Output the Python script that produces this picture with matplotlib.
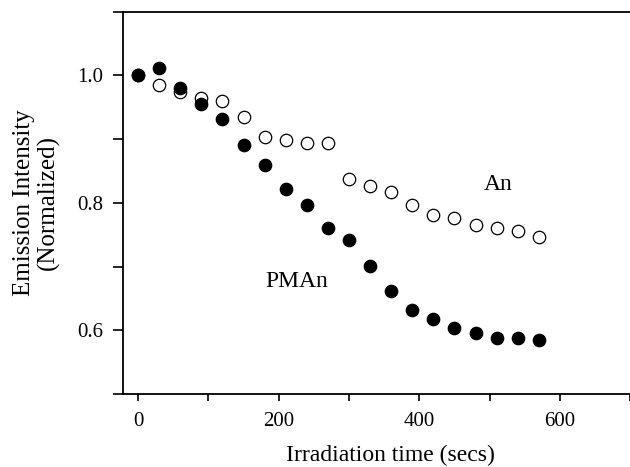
import matplotlib

matplotlib.use("Agg")
import matplotlib.pyplot as plt
from matplotlib.ticker import MultipleLocator

# irradiation time (s), one reading every 30 s
time_s = [0, 30, 60, 90, 120, 150, 180, 210, 240, 270,
          300, 330, 360, 390, 420, 450, 480, 510, 540, 570]

# normalized emission intensity
pman = [1.000, 1.012, 0.980, 0.955, 0.931, 0.891, 0.859, 0.822, 0.797, 0.761,
        0.742, 0.701, 0.661, 0.632, 0.617, 0.604, 0.596, 0.588, 0.588, 0.585]
an = [1.000, 0.984, 0.974, 0.965, 0.960, 0.934, 0.903, 0.898, 0.893, 0.893,
      0.837, 0.827, 0.817, 0.796, 0.781, 0.776, 0.765, 0.761, 0.756, 0.746]

x_ticks = [0, 200, 400, 600]
y_ticks = [0.6, 0.8, 1.0]

plt.rcParams.update(
    {
        "font.family": ["Liberation Serif", "DejaVu Serif"],
        "font.size": 15,
        "axes.linewidth": 1.3,
    }
)

fig = plt.figure(figsize=(6.3, 4.67), dpi=100)
ax = fig.add_axes([123 / 630, 1 - 394 / 467, 510 / 630, (394 - 11.5) / 467])

ax.scatter(time_s, an, s=80, facecolors="white", edgecolors="black",
           linewidths=0.9, zorder=3)
ax.scatter(time_s, pman, s=80, facecolors="black", edgecolors="black",
           linewidths=0.9, zorder=4)

ax.text(512, 0.829, "An", ha="center", va="center", fontsize=17)
ax.text(226, 0.677, "PMAn", ha="center", va="center", fontsize=17)

ax.set_xlim(-21.5, 704)
ax.set_ylim(0.5, 1.1)
ax.set_xticks(x_ticks)
ax.xaxis.set_minor_locator(MultipleLocator(100))
ax.set_yticks(y_ticks)
ax.set_yticklabels([f"{v:.1f}" for v in y_ticks])
ax.yaxis.set_minor_locator(MultipleLocator(0.1))

ax.tick_params(which="both", direction="out", width=1.2, labelsize=15)
ax.tick_params(axis="x", which="both", length=5, pad=8)
ax.tick_params(axis="y", which="both", length=7, pad=7)
ax.tick_params(top=False, right=False, which="both")
ax.spines["right"].set_visible(False)

ax.set_xlabel("Irradiation time (secs)", fontsize=17)
ax.xaxis.set_label_coords((390 - 123) / 510, -(455 - 394) / (394 - 11.5))
ax.set_ylabel("Emission Intensity\n(Normalized)", fontsize=18, linespacing=1.1)
ax.yaxis.set_label_coords(-(123 - 36) / 510, 0.5)
ax.xaxis.label.set_va("center")
ax.yaxis.label.set_va("center")

fig.savefig("out.png", dpi=100)
